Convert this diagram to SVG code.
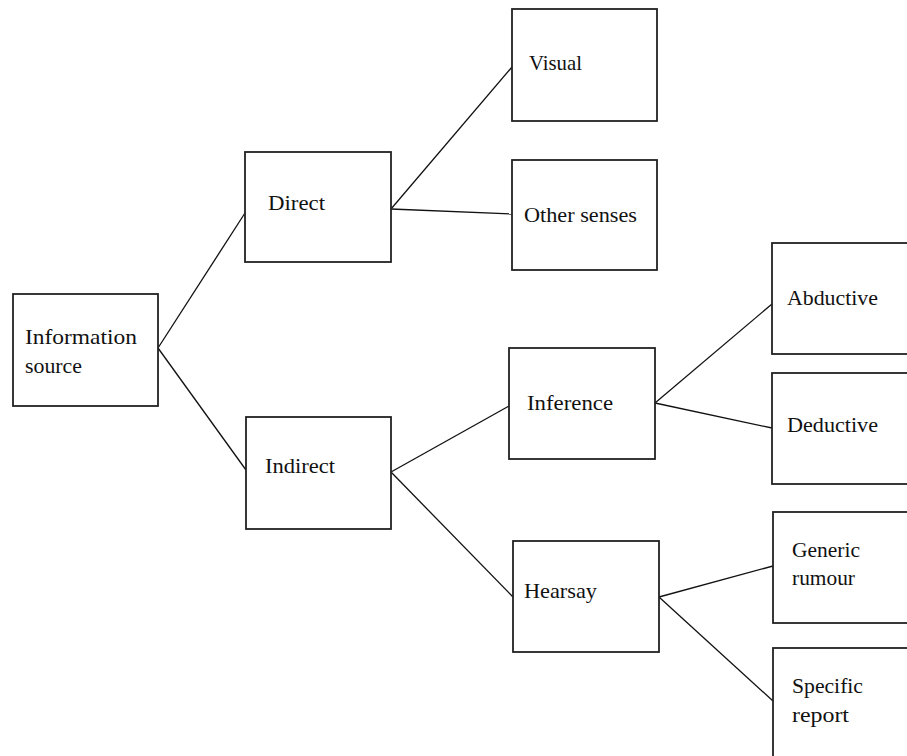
<svg xmlns="http://www.w3.org/2000/svg" width="907" height="756" viewBox="0 0 907 756">
<style>
.box{fill:#fff;stroke:#222;stroke-width:1.8}
.lbl{font-family:"Liberation Serif","Times New Roman",serif;font-size:21px;fill:#111}
.con{stroke:#111;stroke-width:1.3;fill:none}
</style>
<rect width="907" height="756" fill="#fff"/>
<g id="connectors">
<line class="con" x1="158" y1="348" x2="245" y2="213"/>
<line class="con" x1="158" y1="348" x2="246" y2="470"/>
<line class="con" x1="391" y1="209" x2="512" y2="67"/>
<line class="con" x1="391" y1="209" x2="512" y2="214"/>
<line class="con" x1="391" y1="472" x2="509" y2="406"/>
<line class="con" x1="391" y1="472" x2="513" y2="597"/>
<line class="con" x1="655" y1="403" x2="772" y2="304"/>
<line class="con" x1="655" y1="403" x2="772" y2="428"/>
<line class="con" x1="659" y1="597" x2="773" y2="566"/>
<line class="con" x1="659" y1="597" x2="773" y2="701"/>
</g>
<g id="information-source">
<rect class="box" x="13" y="294" width="145" height="112"/>
<text class="lbl" x="25" y="344" textLength="112" lengthAdjust="spacingAndGlyphs">Information</text>
<text class="lbl" x="25" y="373" textLength="57" lengthAdjust="spacingAndGlyphs">source</text>
</g>
<g id="direct">
<rect class="box" x="245" y="152" width="146" height="110"/>
<text class="lbl" x="268" y="210" textLength="57" lengthAdjust="spacingAndGlyphs">Direct</text>
</g>
<g id="indirect">
<rect class="box" x="246" y="417" width="145" height="112"/>
<text class="lbl" x="265" y="473" textLength="70" lengthAdjust="spacingAndGlyphs">Indirect</text>
</g>
<g id="visual">
<rect class="box" x="512" y="9" width="145" height="112"/>
<text class="lbl" x="529" y="70" textLength="53" lengthAdjust="spacingAndGlyphs">Visual</text>
</g>
<g id="other-senses">
<rect class="box" x="512" y="160" width="145" height="110"/>
<text class="lbl" x="524" y="222" textLength="113" lengthAdjust="spacingAndGlyphs">Other senses</text>
</g>
<g id="inference">
<rect class="box" x="509" y="348" width="146" height="111"/>
<text class="lbl" x="527" y="410" textLength="86" lengthAdjust="spacingAndGlyphs">Inference</text>
</g>
<g id="hearsay">
<rect class="box" x="513" y="541" width="146" height="111"/>
<text class="lbl" x="524" y="598" textLength="73" lengthAdjust="spacingAndGlyphs">Hearsay</text>
</g>
<g id="abductive">
<rect class="box" x="772" y="243" width="150" height="111"/>
<text class="lbl" x="787" y="305" textLength="91" lengthAdjust="spacingAndGlyphs">Abductive</text>
</g>
<g id="deductive">
<rect class="box" x="772" y="373" width="150" height="111"/>
<text class="lbl" x="787" y="432" textLength="91" lengthAdjust="spacingAndGlyphs">Deductive</text>
</g>
<g id="generic-rumour">
<rect class="box" x="773" y="512" width="150" height="111"/>
<text class="lbl" x="792" y="557" textLength="68" lengthAdjust="spacingAndGlyphs">Generic</text>
<text class="lbl" x="792" y="585" textLength="63" lengthAdjust="spacingAndGlyphs">rumour</text>
</g>
<g id="specific-report">
<rect class="box" x="773" y="648" width="150" height="120"/>
<text class="lbl" x="792" y="693" textLength="71" lengthAdjust="spacingAndGlyphs">Specific</text>
<text class="lbl" x="792" y="722" textLength="57" lengthAdjust="spacingAndGlyphs">report</text>
</g>
</svg>
